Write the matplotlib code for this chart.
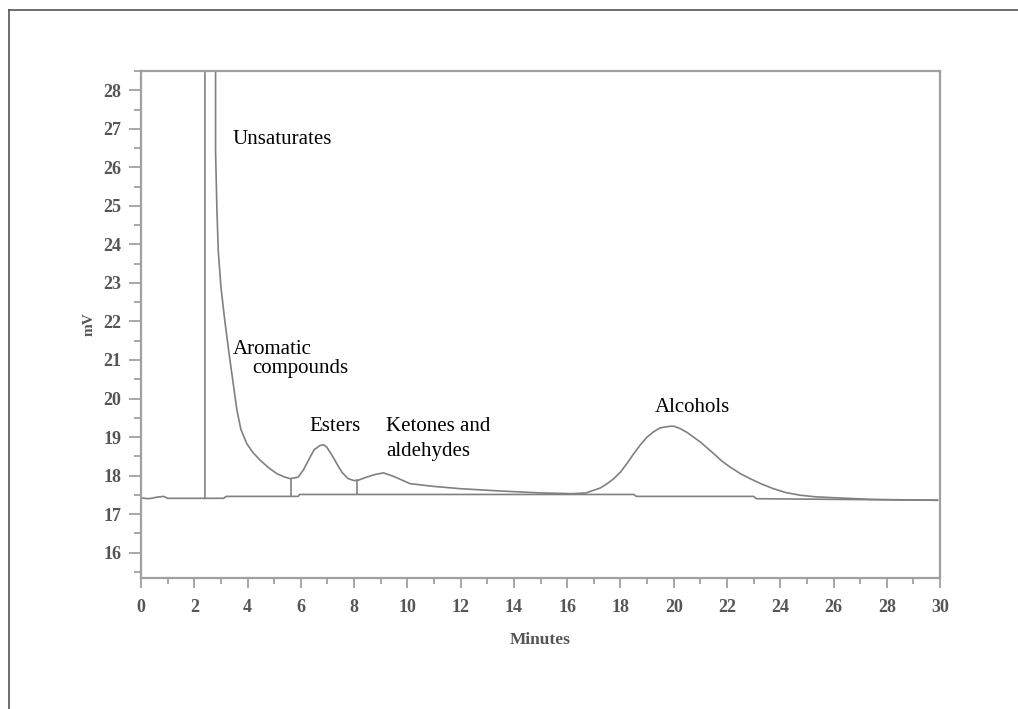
import matplotlib
matplotlib.use('Agg')
from matplotlib import pyplot as plt
from matplotlib.lines import Line2D
from matplotlib.ticker import MultipleLocator

# detector signal (minutes, mV); the unsaturates peak runs off scale
signal_min = [0.0, 0.3, 0.6, 0.85, 1.0, 2.4, 2.4, 2.8, 2.8, 2.85, 2.9, 3.0, 3.15,
              3.3, 3.45, 3.6, 3.75, 3.97, 4.2, 4.47, 4.8, 5.1, 5.4, 5.6, 5.9,
              6.1, 6.35, 6.5, 6.72, 6.85, 6.97, 7.15, 7.35, 7.55, 7.78, 8.0,
              8.16, 8.47, 8.8, 9.1, 9.48, 10.1, 10.98, 11.98, 13.48, 15.0, 16.2,
              16.7, 17.0, 17.25, 17.5, 17.75, 18.0, 18.25, 18.5, 18.75, 19.0,
              19.25, 19.5, 19.86, 20.0, 20.24, 20.5, 20.74, 21.0, 21.5, 21.8,
              22.12, 22.5, 22.87, 23.3, 23.74, 24.2, 24.75, 25.3, 25.87, 27.5,
              29.9]
signal_mv = [17.42, 17.40, 17.44, 17.46, 17.41, 17.41, 40.0, 40.0, 26.4, 24.9, 23.85,
             22.9, 22.0, 21.2, 20.45, 19.7, 19.2, 18.83, 18.6, 18.40, 18.2,
             18.05, 17.96, 17.92, 17.96, 18.15, 18.48, 18.67, 18.78, 18.8,
             18.74, 18.55, 18.31, 18.08, 17.92, 17.87, 17.88, 17.96, 18.03,
             18.07, 17.98, 17.79, 17.72, 17.66, 17.60, 17.55, 17.53, 17.55,
             17.62, 17.68, 17.79, 17.92, 18.09, 18.32, 18.57, 18.8, 19.0, 19.14,
             19.24, 19.28, 19.28, 19.22, 19.12, 19.0, 18.87, 18.57, 18.38,
             18.22, 18.05, 17.92, 17.78, 17.66, 17.56, 17.49, 17.45, 17.43,
             17.38, 17.36]

# integration baseline
base_min = [2.4, 3.1, 3.2, 5.9, 5.95, 18.5, 18.6, 23.0, 23.1, 29.9]
base_mv = [17.41, 17.41, 17.46, 17.46, 17.51, 17.51, 17.46, 17.46, 17.40, 17.36]

# drop lines between peaks
drop_min = [5.65, 8.12]
drop_top = [17.92, 17.88]
drop_bottom = [17.46, 17.51]

labels = ['Unsaturates', 'Aromatic', 'compounds', 'Esters',
          'Ketones and', 'aldehydes', 'Alcohols']
label_x = [3.45, 3.44, 4.16, 6.32, 9.2, 9.2, 19.3]
label_y = [26.61, 21.16, 20.66, 19.15, 19.15, 18.5, 19.65]


def main():
    fig = plt.figure(figsize=(10.18, 7.09), dpi=100)
    ax = fig.add_axes([0.1385, 0.1852, 0.785, 0.7147])

    line_col = '#808080'
    ax.plot(signal_min, signal_mv, color=line_col, lw=1.2)
    ax.plot(base_min, base_mv, color=line_col, lw=1.2)
    for x, top, bot in zip(drop_min, drop_top, drop_bottom):
        ax.plot([x, x], [bot, top], color=line_col, lw=1.2)

    for txt, x, y in zip(labels, label_x, label_y):
        ax.text(x, y, txt, fontsize=15, family='Liberation Serif',
                ha='left', va='baseline', color='black')

    ax.set_xlim(0, 30)
    ax.set_ylim(15.35, 28.5)
    ax.xaxis.set_major_locator(MultipleLocator(2))
    ax.xaxis.set_minor_locator(MultipleLocator(1))
    ax.yaxis.set_major_locator(MultipleLocator(1))
    ax.yaxis.set_minor_locator(MultipleLocator(0.5))

    spine_col = '#a0a0a0'
    for s in ax.spines.values():
        s.set_color(spine_col)
        s.set_linewidth(1.6)

    ax.tick_params(axis='both', which='both', colors=spine_col, direction='out',
                   width=1.3)
    ax.tick_params(axis='y', which='major', length=9, pad=5)
    ax.tick_params(axis='y', which='minor', length=5)
    ax.tick_params(axis='x', which='major', length=7, pad=8)
    ax.tick_params(axis='x', which='minor', length=4)
    for lab in ax.get_xticklabels() + ax.get_yticklabels():
        lab.set_family('Liberation Serif')
        lab.set_fontsize(13)
        lab.set_fontweight('bold')
        lab.set_color('#555555')

    ax.set_xlabel('Minutes', family='Liberation Serif', fontsize=12.5,
                  fontweight='bold', color='#555555', labelpad=12)
    ax.set_ylabel('mV', family='Liberation Serif', fontsize=11,
                  fontweight='bold', color='#555555', labelpad=6)

    # outer frame (top and left edges)
    fig.add_artist(Line2D([9 / 1018, 9 / 1018], [0, 1 - 10 / 709],
                          transform=fig.transFigure, color='#555555', lw=1.2))
    fig.add_artist(Line2D([9 / 1018, 1], [1 - 10 / 709, 1 - 10 / 709],
                          transform=fig.transFigure, color='#555555', lw=1.2))

    fig.savefig('out.png', dpi=100)


if __name__ == '__main__':
    main()
